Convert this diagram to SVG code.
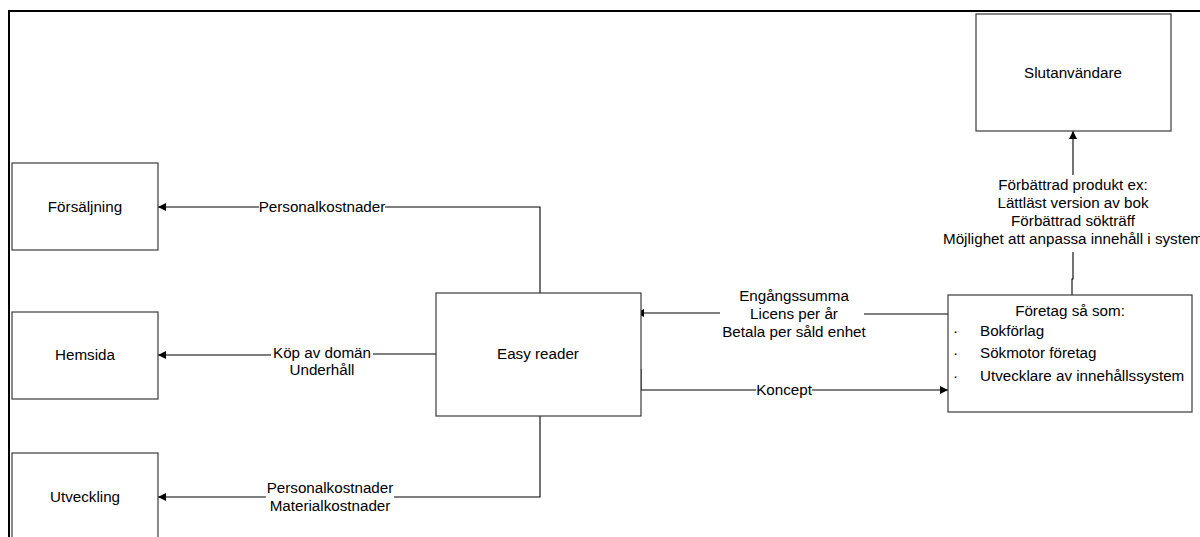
<svg xmlns="http://www.w3.org/2000/svg" width="1200" height="537" viewBox="0 0 1200 537">
<defs>
<marker id="ah" viewBox="0 0 10 10" refX="10" refY="5" markerWidth="8" markerHeight="8" markerUnits="userSpaceOnUse" orient="auto">
<path d="M0,0 L10,5 L0,10 z" fill="#000"/>
</marker>
</defs>
<style>
.box{fill:#fff;stroke:#3a3a3a;stroke-width:1.2}
.t{font-family:"Liberation Sans",Arial,sans-serif;font-size:15.2px;fill:#000}
.c{text-anchor:middle}
.ln{fill:none;stroke:#000;stroke-width:1.1}
.frame{fill:none;stroke:#000;stroke-width:2}
</style>
<rect width="1200" height="537" fill="#fff"/>
<path class="frame" d="M9,537 V11 H1200"/>

<g id="connectors">
<path class="ln" d="M540,293 V207 H385"/>
<path class="ln" d="M259,207 H158" marker-end="url(#ah)"/>
<path class="ln" d="M436,354 H373"/>
<path class="ln" d="M271,355 H158" marker-end="url(#ah)"/>
<path class="ln" d="M540,416 V497 H394"/>
<path class="ln" d="M266,497 H158" marker-end="url(#ah)"/>
<path class="ln" d="M948,314 H864"/>
<path class="ln" d="M720,313 H636" marker-end="url(#ah)"/>
<path class="ln" d="M641,369 V390 H756"/>
<path class="ln" d="M812,390 H948" marker-end="url(#ah)"/>
<path class="ln" d="M1072,295 V279 H1073 V252"/>
<path class="ln" d="M1073,175 V131" marker-end="url(#ah)"/>
</g>

<g id="label-personal">
<text class="t c" x="322" y="212">Personalkostnader</text>
</g>
<g id="label-domain">
<text class="t c" x="322" y="358">Köp av domän</text>
<text class="t c" x="322" y="375">Underhåll</text>
</g>
<g id="label-utv">
<text class="t c" x="330" y="493">Personalkostnader</text>
<text class="t c" x="330" y="511">Materialkostnader</text>
</g>
<g id="label-pay">
<text class="t c" x="794" y="301">Engångssumma</text>
<text class="t c" x="794" y="319">Licens per år</text>
<text class="t c" x="794" y="337">Betala per såld enhet</text>
</g>
<g id="label-koncept">
<text class="t c" x="784" y="395">Koncept</text>
</g>
<g id="label-product">
<text class="t c" x="1073" y="190">Förbättrad produkt ex:</text>
<text class="t c" x="1073" y="208">Lättläst version av bok</text>
<text class="t c" x="1073" y="226">Förbättrad sökträff</text>
<text class="t c" x="1073" y="244">Möjlighet att anpassa innehåll i system</text>
</g>

<g id="forsaljning">
<rect class="box" x="12" y="163" width="146" height="87"/>
<text class="t c" x="85" y="212">Försäljning</text>
</g>
<g id="hemsida">
<rect class="box" x="12" y="312" width="146" height="87"/>
<text class="t c" x="85" y="360">Hemsida</text>
</g>
<g id="utveckling">
<rect class="box" x="12" y="453" width="146" height="90"/>
<text class="t c" x="85" y="502">Utveckling</text>
</g>
<g id="easyreader">
<rect class="box" x="436" y="293" width="205" height="123"/>
<text class="t c" x="538" y="359">Easy reader</text>
</g>
<g id="foretag">
<rect class="box" x="948" y="295" width="244" height="117"/>
<text class="t c" x="1070" y="316">Företag så som:</text>
<text class="t" x="953" y="336">·</text>
<text class="t" x="980" y="336">Bokförlag</text>
<text class="t" x="953" y="358">·</text>
<text class="t" x="980" y="358">Sökmotor företag</text>
<text class="t" x="953" y="381">·</text>
<text class="t" x="980" y="381">Utvecklare av innehållssystem</text>
</g>
<g id="slutanvandare">
<rect class="box" x="976" y="14" width="195" height="117"/>
<text class="t c" x="1073" y="78">Slutanvändare</text>
</g>
</svg>
